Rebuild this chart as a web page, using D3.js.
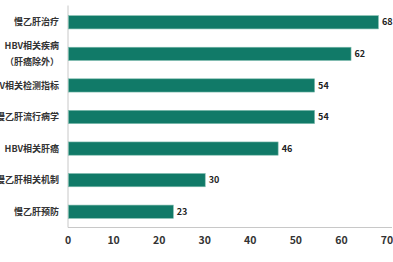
<!DOCTYPE html>
<html>
<head>
<meta charset="utf-8">
<script src="https://d3js.org/d3.v7.min.js"></script>
<style>
    body { margin: 0; background: #fff; }
    text { font-family: 'Noto Sans CJK SC', 'Open Sans', sans-serif; font-weight: 700; }
</style>
</head>
<body>
<script>
    "use strict";
    const categories = ["慢乙肝治疗", "HBV相关疾病|（肝癌除外）", "HBV相关检测指标", "慢乙肝流行病学", "HBV相关肝癌", "慢乙肝相关机制", "慢乙肝预防"];
    const values = [68, 62, 54, 54, 46, 30, 23];
    const xTicks = [0, 10, 20, 30, 40, 50, 60, 70];

    const width = 393, height = 262;
    const margin = { top: 6.5, right: 6, bottom: 34.5, left: 68 };

    const svg = d3.select("body").append("svg")
        .attr("width", width)
        .attr("height", height);

    const x = d3.scaleLinear().domain([0, 70]).range([margin.left, 387]);
    const y = d3.scaleBand().domain(categories)
        .range([margin.top, height - margin.bottom])
        .paddingInner(0.58).paddingOuter(0.29);

    const axisY = height - margin.bottom;

    // axis lines
    svg.append("line")
        .attr("x1", x(0)).attr("x2", x(0))
        .attr("y1", margin.top - 1).attr("y2", axisY)
        .attr("stroke", "#c8c8c8").attr("stroke-width", 1);
    svg.append("line")
        .attr("x1", x(0)).attr("x2", width - 1)
        .attr("y1", axisY).attr("y2", axisY)
        .attr("stroke", "#c8c8c8").attr("stroke-width", 1);

    // bars
    svg.selectAll(".bar")
        .data(values)
        .enter().append("rect")
        .attr("class", "bar")
        .attr("x", x(0) + 0.5)
        .attr("y", (d, i) => y(categories[i]))
        .attr("width", d => x(d) - x(0))
        .attr("height", y.bandwidth())
        .attr("fill", "#117a68")
        .attr("stroke", "#7fbcae")
        .attr("stroke-width", 0.6);

    // value labels
    svg.selectAll(".val")
        .data(values)
        .enter().append("text")
        .attr("class", "val")
        .attr("x", d => x(d) + 4)
        .attr("y", (d, i) => y(categories[i]) + y.bandwidth() / 2)
        .attr("dy", "0.35em")
        .attr("font-size", 9)
        .attr("fill", "#222")
        .text(d => d);

    // category labels
    categories.forEach(function (c) {
        const lines = c.split("|");
        const cy = y(c) + y.bandwidth() / 2;
        const t = svg.append("text")
            .attr("text-anchor", "end")
            .attr("font-size", 9)
            .attr("fill", "#333");
        lines.forEach(function (l, j) {
            t.append("tspan")
                .attr("x", 59)
                .attr("y", cy + (j - (lines.length - 1) / 2) * 16)
                .attr("dy", "0.35em")
                .text(l);
        });
    });

    // x tick labels
    svg.selectAll(".tick")
        .data(xTicks)
        .enter().append("text")
        .attr("class", "tick")
        .attr("x", d => x(d))
        .attr("y", 240)
        .attr("dy", "0.35em")
        .attr("text-anchor", "middle")
        .attr("font-size", 10.5)
        .attr("fill", "#333")
        .text(d => d);
</script>
</body>
</html>
